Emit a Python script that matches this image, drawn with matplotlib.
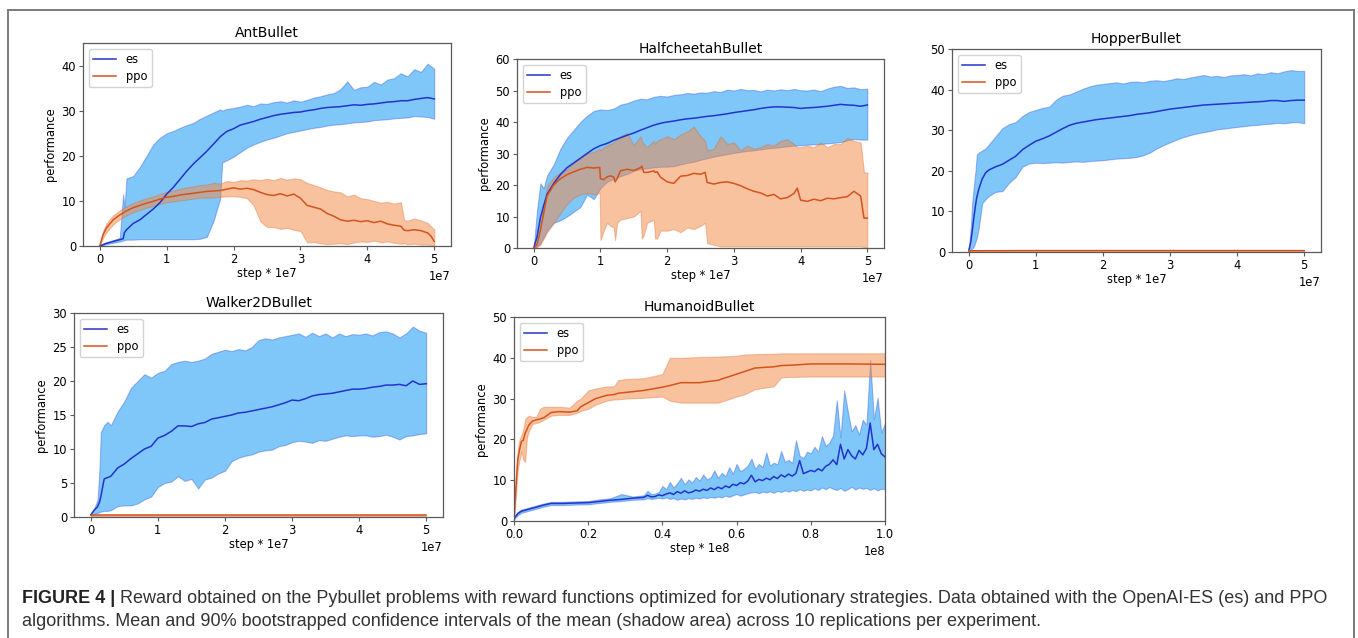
import matplotlib
matplotlib.use('Agg')
import matplotlib.pyplot as plt
from matplotlib.lines import Line2D
import numpy as np

# ---------------- data (x in units of 1e7 steps, Humanoid in 1e8) ----------------
# AntBullet
ant_es_x = [0, 0.05, 0.1, 0.2, 0.3, 0.35, 0.37, 0.4,
            0.5, 0.6, 0.7, 0.8, 0.9, 1.0, 1.1, 1.2, 1.3, 1.4, 1.5, 1.6, 1.7, 1.8,
            1.83,
            1.9, 2.0, 2.1, 2.2, 2.3, 2.4, 2.5, 2.6, 2.7, 2.8, 2.9, 3.0, 3.1, 3.2, 3.3, 3.4,
            3.5, 3.6, 3.7, 3.8, 3.9, 4.0, 4.1, 4.2, 4.3, 4.4, 4.5, 4.6, 4.7, 4.8, 4.9, 5.0]
ant_es_mean = [0, 0.3, 0.6, 1.0, 1.4, 1.6, 3.0, 3.6,
               5.0, 5.8, 7.0, 8.2, 9.6, 11.5, 13.0, 14.8, 16.6, 18.2, 19.6, 21.0, 22.6, 24.2,
               24.6,
               25.4, 26.0, 26.8, 27.2, 27.6, 28.1, 28.5, 28.9, 29.2, 29.4, 29.6, 29.7, 30.0, 30.2, 30.5, 30.7,
               30.8, 30.9, 31.1, 31.3, 31.2, 31.4, 31.5, 31.7, 31.9, 32.0, 32.2, 32.2, 32.5, 32.7, 32.9, 32.6]
ant_es_hi = [0, 0.4, 0.8, 1.3, 1.8, 11.5, 8.5, 15.0,
             15.5, 17.5, 20.0, 22.5, 24.0, 25.0, 25.5, 26.2, 26.8, 27.3, 28.2, 28.9, 29.6, 30.3,
             30.0,
             30.4, 30.6, 30.9, 31.3, 31.0, 31.6, 31.5, 31.9, 32.1, 31.8, 32.3, 32.0, 32.4, 32.9, 33.2, 33.6,
             33.9, 34.8, 36.5, 34.6, 35.2, 35.3, 36.4, 35.8, 36.9, 37.2, 38.3, 37.6, 39.2, 38.6, 40.4, 39.3]
ant_es_lo = [0, 0.2, 0.4, 0.7, 1.0, 1.2, 1.3, 1.4,
             1.4, 1.5, 1.5, 1.5, 1.5, 1.5, 1.5, 1.5, 1.5, 1.5, 1.6, 2.0, 5.5, 10.5,
             18.5,
             19.0, 19.8, 20.8, 21.8, 22.5, 23.1, 23.6, 24.0, 24.5, 25.0, 25.3, 25.6, 25.9, 26.2, 26.4, 26.7,
             26.9, 27.0, 27.2, 27.4, 27.5, 27.6, 27.9, 28.0, 28.1, 28.3, 28.4, 28.5, 28.8, 28.7, 28.6, 28.2]

ant_ppo_x = [0, 0.05, 0.1, 0.2, 0.3, 0.4, 0.5, 0.6, 0.7, 0.8, 0.9,
             1.0, 1.1, 1.2, 1.3, 1.4, 1.5, 1.6, 1.7, 1.8, 1.9,
             2.0, 2.1, 2.2, 2.3, 2.4, 2.5, 2.6, 2.7, 2.8, 2.9,
             3.0, 3.1, 3.2, 3.3, 3.4, 3.5, 3.6, 3.7, 3.8, 3.9,
             4.0, 4.1, 4.2, 4.3, 4.4, 4.5, 4.55, 4.6, 4.7, 4.8, 4.9, 4.95, 5.0]
ant_ppo_mean = [0, 2.5, 4.0, 5.8, 6.9, 7.8, 8.5, 9.0, 9.5, 9.9, 10.4,
                10.8, 11.0, 11.3, 11.5, 11.7, 11.9, 12.1, 12.2, 12.3, 12.6,
                12.9, 12.6, 12.8, 12.5, 11.9, 11.4, 11.2, 11.6, 11.1, 11.5,
                10.6, 9.0, 8.6, 8.2, 7.2, 6.6, 5.8, 5.5, 5.7, 5.4,
                5.6, 5.2, 5.5, 4.9, 4.6, 4.4, 3.5, 3.4, 3.6, 3.4, 2.9, 2.2, 1.0]
ant_ppo_hi = [0, 3.3, 5.0, 6.8, 7.9, 8.8, 9.5, 10.1, 10.6, 11.0, 11.5,
              12.0, 12.3, 12.7, 13.0, 13.2, 13.5, 13.6, 14.0, 13.8, 14.4,
              14.2, 14.6, 14.5, 14.8, 14.6, 14.9, 14.6, 15.1, 14.7, 15.0,
              14.8, 14.0, 13.5, 13.0, 12.4, 12.1, 11.9, 11.0, 11.4, 10.6,
              10.4, 10.0, 9.6, 9.8, 9.4, 9.7, 5.8, 5.6, 6.1, 5.7, 5.1, 4.4, 3.7]
ant_ppo_lo = [0, 1.8, 3.0, 4.8, 5.9, 6.8, 7.5, 8.0, 8.5, 8.9, 9.3,
              9.7, 9.9, 10.1, 10.3, 10.5, 10.7, 10.7, 10.8, 10.9, 11.0,
              11.0, 10.9, 10.6, 9.0, 5.5, 4.2, 4.2, 3.8, 4.0, 3.6,
              3.3, 0.8, 0.9, 0.6, 0.4, 0.5, 0.6, 0.4, 0.8, 1.0,
              0.9, 1.2, 0.8, 1.0, 0.7, 0.5, 0.6, 0.4, 0.5, 0.3, 0.3, 0.2, 0.1]

# HalfcheetahBullet
hc_es_x = [0, 0.05, 0.1, 0.15, 0.2, 0.3, 0.4, 0.5, 0.6, 0.7, 0.8, 0.9,
           1.0, 1.1, 1.2, 1.3, 1.4, 1.5, 1.6, 1.7, 1.8, 1.9,
           2.0, 2.1, 2.2, 2.3, 2.4, 2.5, 2.6, 2.7, 2.8, 2.9,
           3.0, 3.1, 3.2, 3.3, 3.4, 3.5, 3.6, 3.7, 3.8, 3.9,
           4.0, 4.1, 4.2, 4.3, 4.4, 4.5, 4.6, 4.7, 4.8, 4.9, 5.0]
hc_es_mean = [0, 3.5, 9.5, 13.5, 17.0, 20.5, 23.3, 25.5, 27.0, 28.5, 30.0, 31.5,
              32.5, 33.2, 34.2, 35.0, 35.8, 36.5, 37.4, 38.2, 39.0, 39.6,
              40.0, 40.3, 40.7, 41.0, 41.2, 41.5, 41.8, 42.0, 42.3, 42.6,
              43.0, 43.3, 43.6, 43.9, 44.3, 44.6, 44.8, 44.8, 44.7, 44.6,
              44.3, 44.5, 44.6, 44.8, 45.0, 45.3, 45.6, 45.4, 45.3, 45.0, 45.4]
hc_es_hi = [0, 12.0, 20.5, 19.0, 23.0, 26.5, 31.5, 35.0, 37.5, 40.0, 42.0, 43.5,
            44.0, 43.8, 44.3, 45.5, 46.0, 46.8, 47.4, 47.2, 48.0, 48.3,
            48.1, 48.6, 48.8, 49.2, 49.0, 49.4, 49.3, 49.8, 49.5, 50.3,
            50.0, 50.5, 50.1, 50.2, 49.7, 50.3, 50.0, 50.4, 50.1, 50.5,
            50.1, 50.0, 50.3, 49.8, 50.6, 51.2, 51.5, 50.8, 51.0, 50.4, 50.6]
hc_es_lo = [0, 0.5, 1.5, 3.5, 5.5, 8.0, 8.8, 10.0, 11.5, 13.0, 17.0, 15.5,
            19.0, 21.0, 22.0, 22.8, 23.5, 24.5, 25.0, 25.3, 25.6, 25.8,
            25.8, 26.0, 26.5, 27.0, 27.4, 28.0, 28.5, 29.0, 29.4, 29.8,
            30.2, 30.5, 30.8, 31.0, 31.3, 31.6, 31.8, 32.0, 32.3, 32.5,
            32.6, 32.8, 32.9, 33.0, 33.2, 33.4, 33.6, 34.2, 34.6, 34.4, 34.4]

hc_ppo_x = [0, 0.05, 0.1, 0.15, 0.2, 0.3, 0.4, 0.5, 0.6, 0.7, 0.8, 0.9, 0.99,
            1.0, 1.05, 1.1, 1.15, 1.2, 1.22, 1.25, 1.3, 1.4, 1.5,
            1.6, 1.62, 1.65, 1.7, 1.8, 1.82, 1.85, 1.9,
            2.0, 2.1, 2.2, 2.3, 2.4, 2.5, 2.57, 2.6, 2.7, 2.8, 2.9,
            3.0, 3.1, 3.2, 3.3, 3.4, 3.5, 3.6, 3.7, 3.8, 3.9, 3.95,
            4.0, 4.1, 4.2, 4.3, 4.4, 4.5, 4.6, 4.7, 4.8, 4.9, 4.95, 5.0]
hc_ppo_mean = [0, 1.0, 5.5, 11.0, 16.5, 20.0, 22.0, 23.3, 24.2, 25.0, 25.6, 25.4, 25.6,
               22.0, 21.7, 22.6, 22.9, 22.5, 21.0, 22.0, 24.5, 25.0, 24.6,
               25.5, 26.0, 24.0, 24.0, 24.5, 24.0, 24.2, 22.5,
               21.0, 20.5, 22.8, 23.0, 23.7, 23.4, 24.0, 20.8, 20.3, 20.8, 21.0,
               20.5, 19.8, 18.8, 18.0, 17.5, 16.5, 17.0, 15.6, 16.0, 17.3, 19.0,
               15.2, 14.8, 15.5, 15.0, 15.8, 15.6, 16.0, 16.3, 18.0, 16.5, 9.5, 9.5]
hc_ppo_hi = [0, 2.0, 7.5, 14.0, 19.5, 22.5, 24.0, 25.0, 27.0, 28.5, 30.0, 30.5, 31.5,
             31.0, 32.0, 32.5, 33.0, 33.5, 34.0, 34.5, 35.5, 36.5, 32.5,
             35.5, 34.0, 33.0, 32.0, 34.0, 33.0, 34.0, 34.5,
             35.5, 34.5, 36.0, 37.0, 38.5, 35.5, 34.0, 31.0, 31.5, 35.5, 33.0,
             33.5, 31.0, 32.5, 31.5, 32.0, 33.0, 32.5, 34.0, 34.5, 33.0, 32.0,
             32.0, 32.5, 32.0, 33.5, 32.0, 33.0, 33.0, 35.0, 34.0, 33.5, 24.0, 24.0]
hc_ppo_lo = [0, 0.3, 1.0, 3.0, 5.0, 8.0, 11.0, 14.0, 16.0, 17.0, 17.5, 17.0, 17.5,
             2.5, 5.5, 8.0, 7.0, 6.5, 2.5, 8.0, 9.0, 9.5, 10.0,
             11.8, 3.0, 4.0, 8.0, 9.0, 3.0, 3.0, 5.5,
             5.5, 6.0, 5.0, 6.5, 6.0, 7.0, 8.0, 1.5, 1.0, 0.5, 0.5,
             0.5, 0.5, 0.5, 0.5, 0.5, 0.5, 0.5, 0.5, 0.5, 0.5, 0.5,
             0.5, 0.5, 0.5, 0.5, 0.5, 0.5, 0.5, 0.5, 0.5, 0.5, 0.3, 0.0]

# HopperBullet
hp_es_x = [0, 0.03, 0.05, 0.08, 0.1, 0.12, 0.15, 0.2, 0.25, 0.3,
           0.4, 0.5, 0.6, 0.7, 0.8, 0.9,
           1.0, 1.1, 1.2, 1.3, 1.4, 1.5, 1.6, 1.7, 1.8, 1.9,
           2.0, 2.1, 2.2, 2.3, 2.4, 2.5, 2.6, 2.7, 2.8, 2.9,
           3.0, 3.1, 3.2, 3.3, 3.4, 3.5, 3.6, 3.7, 3.8, 3.9,
           4.0, 4.1, 4.2, 4.3, 4.4, 4.5, 4.6, 4.7, 4.8, 4.9, 5.0]
hp_es_mean = [0.3, 2.5, 5.0, 9.0, 11.5, 13.5, 15.5, 18.0, 19.5, 20.2,
              21.0, 21.6, 22.6, 23.6, 25.2, 26.3,
              27.3, 27.9, 28.6, 29.5, 30.4, 31.2, 31.7, 32.0, 32.3, 32.6,
              32.8, 33.0, 33.2, 33.4, 33.6, 33.9, 34.1, 34.3, 34.6, 34.9,
              35.2, 35.4, 35.6, 35.8, 36.0, 36.2, 36.3, 36.4, 36.5, 36.6,
              36.7, 36.8, 36.9, 37.0, 37.1, 37.3, 37.3, 37.1, 37.3, 37.4, 37.4]
hp_es_hi = [0.5, 6.0, 12.0, 17.0, 20.0, 24.0, 24.5, 25.0, 25.5, 26.5,
            28.5, 30.5, 31.5, 32.0, 33.5, 34.5,
            35.0, 35.5, 35.8, 37.5, 38.5, 38.8, 39.5, 40.2, 40.8, 41.2,
            41.4, 41.6, 41.8, 41.5, 41.9, 42.0, 41.8, 42.2, 42.3, 42.1,
            42.4, 42.8, 42.6, 43.0, 43.3, 43.6, 43.2, 43.4, 43.1, 43.5,
            43.6, 43.8, 43.5, 44.0, 43.8, 44.3, 44.0, 44.5, 44.8, 44.6, 44.6]
hp_es_lo = [0.3, 0.5, 0.8, 1.5, 2.5, 3.5, 6.0, 12.0, 13.0, 13.8,
            14.8, 15.0, 17.0, 18.5, 21.0, 21.8,
            22.0, 21.9, 22.0, 22.1, 22.0, 22.2, 22.3, 22.2, 22.4, 22.5,
            22.6, 22.8, 23.0, 23.1, 23.2, 23.4, 23.8, 24.5, 25.5, 26.3,
            27.0, 27.7, 28.3, 28.8, 29.2, 29.5, 29.8, 30.2, 30.4, 30.6,
            30.8, 31.0, 31.2, 31.3, 31.5, 31.6, 31.8, 31.7, 31.9, 32.0, 31.7]
hp_ppo_x = [0, 1, 2, 3, 4, 5]
hp_ppo_mean = [0.3, 0.35, 0.35, 0.35, 0.35, 0.35]
hp_ppo_hi = [0.4, 0.45, 0.45, 0.45, 0.45, 0.45]
hp_ppo_lo = [0.2, 0.25, 0.25, 0.25, 0.25, 0.25]

# Walker2DBullet
wk_es_x = [0, 0.05, 0.1, 0.13, 0.15, 0.2, 0.25, 0.3,
           0.4, 0.5, 0.6, 0.7, 0.8, 0.9,
           1.0, 1.1, 1.2, 1.3, 1.4, 1.5, 1.6, 1.7, 1.8, 1.9,
           2.0, 2.1, 2.2, 2.3, 2.4, 2.5, 2.6, 2.7, 2.8, 2.9,
           3.0, 3.1, 3.2, 3.3, 3.4, 3.5, 3.6, 3.7, 3.8, 3.9,
           4.0, 4.1, 4.2, 4.3, 4.4, 4.5, 4.6, 4.7, 4.8, 4.9, 5.0]
wk_es_mean = [0.3, 1.0, 1.5, 2.2, 3.0, 5.6, 5.8, 6.0,
              7.2, 7.8, 8.6, 9.3, 10.0, 10.4,
              11.6, 12.0, 12.6, 13.4, 13.4, 13.3, 13.7, 13.9, 14.4, 14.6,
              14.8, 15.0, 15.3, 15.4, 15.6, 15.8, 16.0, 16.2, 16.5, 16.8,
              17.2, 17.1, 17.4, 17.8, 18.0, 18.1, 18.2, 18.4, 18.6, 18.8,
              18.8, 18.9, 19.1, 19.2, 19.4, 19.4, 19.5, 19.3, 20.0, 19.5, 19.6]
wk_es_hi = [0.5, 1.2, 2.5, 7.0, 12.5, 13.5, 14.0, 13.5,
            15.5, 17.0, 19.0, 20.0, 21.0, 20.5,
            21.2, 21.5, 22.5, 22.8, 23.0, 22.8, 23.0, 23.3, 24.0, 24.3,
            24.6, 24.4, 24.7, 24.5, 25.0, 26.0, 26.3, 26.1, 26.4, 26.6,
            26.8, 27.0, 26.5, 27.1, 26.6, 27.0, 26.4, 27.0, 26.6, 26.9,
            26.8, 27.0, 26.7, 27.2, 27.3, 27.0, 26.4, 27.0, 28.0, 27.4, 27.1]
wk_es_lo = [0.2, 0.4, 0.6, 0.7, 0.8, 0.9, 0.9, 1.0,
            1.6, 1.7, 1.7, 2.0, 2.6, 3.0,
            4.4, 5.0, 5.2, 6.0, 5.3, 5.6, 4.2, 5.5, 5.8, 6.4,
            6.8, 8.2, 8.7, 9.0, 9.2, 9.6, 9.8, 9.9, 10.4, 10.6,
            11.0, 11.2, 11.1, 10.9, 11.3, 11.2, 11.5, 11.8, 12.0, 11.9,
            12.0, 12.0, 11.8, 11.9, 12.1, 11.8, 11.4, 11.9, 12.0, 12.2, 12.3]
wk_ppo_x = [0, 1, 2, 3, 4, 5]
wk_ppo_mean = [0.25, 0.25, 0.25, 0.25, 0.25, 0.25]
wk_ppo_hi = [0.3, 0.3, 0.3, 0.3, 0.3, 0.3]
wk_ppo_lo = [0.2, 0.2, 0.2, 0.2, 0.2, 0.2]

# HumanoidBullet (x in units of 1e8)
hm_ppo_x = [0, 0.005, 0.01, 0.015, 0.02, 0.025, 0.03, 0.035, 0.04, 0.05,
            0.06, 0.07, 0.08, 0.1, 0.12, 0.15, 0.17, 0.18, 0.2, 0.22,
            0.25, 0.27, 0.28, 0.3, 0.35, 0.4, 0.42, 0.45, 0.5, 0.55,
            0.6, 0.62, 0.65, 0.7, 0.72, 0.75, 0.8, 0.9, 1.0]
hm_ppo_mean = [0.5, 8.0, 15.0, 17.5, 19.5, 19.8, 21.5, 22.5, 23.5, 24.5,
               24.8, 25.0, 25.3, 26.6, 26.8, 26.7, 27.0, 28.0, 29.0, 30.0,
               30.8, 31.0, 31.3, 31.5, 32.0, 32.8, 33.2, 33.9, 33.9, 34.5,
               36.0, 36.6, 37.5, 37.8, 38.1, 38.2, 38.5, 38.5, 38.4]
hm_ppo_hi = [0.5, 10.0, 17.5, 20.0, 21.0, 22.5, 25.0, 25.5, 25.8, 25.5,
             25.5, 27.5, 28.0, 28.0, 28.0, 27.8, 29.5, 30.0, 32.0, 32.5,
             33.0, 33.0, 34.5, 34.8, 35.0, 36.0, 40.0, 40.0, 40.2, 40.3,
             40.5, 40.8, 40.9, 41.0, 41.1, 41.1, 41.1, 41.1, 41.1]
hm_ppo_lo = [0.5, 6.0, 12.5, 15.0, 17.0, 15.0, 14.5, 20.5, 22.0, 23.8,
             24.0, 24.3, 24.8, 25.8, 26.0, 26.0, 26.5, 27.0, 27.5, 28.5,
             29.5, 29.8, 29.8, 30.0, 30.2, 30.5, 29.5, 29.0, 29.0, 29.0,
             30.5, 31.0, 32.3, 33.0, 35.2, 35.3, 35.4, 35.4, 35.4]

hm_es_x = [0, 0.01, 0.02, 0.04, 0.06, 0.08, 0.1, 0.13, 0.16, 0.2, 0.23, 0.26, 0.29, 0.32,
           0.35, 0.36, 0.37, 0.38, 0.39, 0.40, 0.41, 0.42, 0.43, 0.44, 0.45, 0.46, 0.47, 0.48, 0.49,
           0.50, 0.51, 0.52, 0.53, 0.54, 0.55, 0.56, 0.57, 0.58, 0.59, 0.60, 0.61, 0.62, 0.63, 0.64,
           0.65, 0.66, 0.67, 0.68, 0.69, 0.70, 0.71, 0.72, 0.73, 0.74, 0.75, 0.76, 0.77, 0.78, 0.79,
           0.80, 0.81, 0.82, 0.83, 0.84, 0.85, 0.86, 0.87, 0.88, 0.89, 0.90, 0.91, 0.92, 0.93, 0.94,
           0.95, 0.96, 0.97, 0.98, 0.99, 1.00]
hm_es_mean = [0.6, 1.8, 2.4, 2.9, 3.4, 3.9, 4.3, 4.3, 4.4, 4.5, 4.8, 5.1, 5.3, 5.6,
              5.8, 6.3, 5.9, 6.0, 6.4, 6.2, 6.6, 6.9, 6.5, 7.2, 6.8, 7.4, 6.9, 7.1, 7.6,
              7.3, 7.8, 7.5, 8.1, 7.7, 8.3, 7.9, 8.6, 8.2, 9.0, 8.7, 9.4, 9.1, 9.8, 11.2,
              9.6, 10.2, 9.9, 10.5, 10.1, 10.9, 10.4, 11.3, 10.8, 11.5, 11.0, 11.7, 14.8, 11.6, 12.0,
              12.4, 12.1, 12.8, 12.3, 13.4, 13.9, 15.0, 13.8, 18.8, 15.2, 17.5, 16.0, 15.2, 17.3, 16.2,
              17.8, 24.0, 17.5, 18.8, 16.5, 15.7]
hm_es_hi = [0.9, 2.2, 2.8, 3.3, 3.8, 4.3, 4.7, 4.7, 4.8, 4.9, 5.3, 5.6, 6.6, 6.0,
            6.3, 7.4, 6.6, 6.7, 7.1, 8.6, 7.8, 9.6, 8.2, 9.3, 10.6, 9.0, 10.2, 9.4, 10.8,
            9.9, 11.4, 10.2, 10.7, 12.4, 10.6, 11.8, 11.0, 13.2, 11.6, 14.0, 12.2, 12.8, 13.6, 15.3,
            12.8, 14.0, 13.2, 16.8, 13.6, 14.3, 13.9, 17.2, 14.5, 15.0, 14.2, 19.8, 16.0, 15.4, 17.0,
            16.6, 18.2, 17.0, 20.8, 18.4, 19.2, 21.0, 29.6, 20.5, 32.0, 26.8, 22.0, 23.5, 21.2, 24.8,
            23.6, 39.5, 25.0, 30.2, 21.7, 24.0]
hm_es_lo = [0.4, 1.4, 2.0, 2.5, 3.0, 3.5, 3.9, 3.9, 4.0, 4.1, 4.4, 4.7, 4.9, 5.2,
            5.3, 5.6, 5.4, 5.5, 5.7, 5.5, 5.8, 5.4, 5.6, 5.2, 5.5, 5.3, 5.6, 5.4, 5.7,
            5.5, 5.8, 5.6, 5.9, 5.7, 6.0, 5.8, 6.2, 5.9, 6.3, 6.6, 6.2, 6.5, 6.8, 7.0,
            7.1, 6.8, 7.2, 7.0, 7.3, 6.9, 7.4, 7.1, 7.5, 7.2, 7.6, 7.3, 7.8, 7.4, 7.7,
            7.5, 8.0, 7.6, 8.2, 7.8, 8.3, 7.9, 7.6, 8.1, 7.4, 7.8, 8.4, 7.7, 8.2, 7.9,
            8.1, 7.6, 8.0, 7.5, 7.9, 7.8]

series_names = ['es', 'ppo']
caption_bold = "FIGURE 4 | "
caption_line1 = ("Reward obtained on the Pybullet problems with reward functions optimized for "
                 "evolutionary strategies. Data obtained with the OpenAI-ES (es) and PPO")
caption_line2 = ("algorithms. Mean and 90% bootstrapped confidence intervals of the mean "
                 "(shadow area) across 10 replications per experiment.")

# ---------------- styling ----------------
ES_LINE = '#2234cc'
PPO_LINE = '#d4541c'
ES_FILL = (0.0, 0.57, 0.96, 0.5)
ES_EDGE = (0.15, 0.25, 0.85, 0.35)
PPO_FILL = (0.96, 0.53, 0.25, 0.5)
PPO_EDGE = (0.85, 0.40, 0.15, 0.35)
SPINE = '#5a5a5a'

W, H = 1358, 638
fig = plt.figure(figsize=(W / 100, H / 100), dpi=100)


def px_rect(l, t, r, b):
    return [l / W, 1 - b / H, (r - l) / W, (b - t) / H]


def panel(rect, title, scale, es, ppo, ylim, yticks, xlabel, ylabel=True, xlim=None):
    ax = fig.add_axes(rect)
    ex, em, elo, ehi = [np.asarray(a, dtype=float) for a in es]
    px, pm, plo, phi = [np.asarray(a, dtype=float) for a in ppo]
    assert len(ex) == len(em) == len(elo) == len(ehi), title
    assert len(px) == len(pm) == len(plo) == len(phi), title
    ex = ex * scale
    px = px * scale
    ax.fill_between(ex, elo, ehi, facecolor=ES_FILL, edgecolor=ES_EDGE, linewidth=0.8)
    ax.fill_between(px, plo, phi, facecolor=PPO_FILL, edgecolor=PPO_EDGE, linewidth=0.8)
    ax.plot(ex, em, color=ES_LINE, lw=1.1, label=series_names[0])
    ax.plot(px, pm, color=PPO_LINE, lw=1.1, label=series_names[1])
    ax.set_ylim(*ylim)
    ax.set_yticks(yticks)
    if xlim is not None:
        ax.set_xlim(*xlim)
    ax.set_title(title, fontsize=10, pad=4)
    ax.set_xlabel(xlabel, fontsize=8.3, labelpad=0.5)
    if ylabel:
        ax.set_ylabel('performance', fontsize=8.3, labelpad=3)
    ax.tick_params(labelsize=8.3, length=3, width=0.8, color=SPINE, pad=2)
    ax.xaxis.get_offset_text().set_fontsize(8.3)
    for s in ax.spines.values():
        s.set_color(SPINE)
        s.set_linewidth(0.9)
    leg = ax.legend(loc='upper left', fontsize=8.3, labelspacing=0.3,
                    handlelength=2.0, borderpad=0.4, framealpha=0.85)
    leg.get_frame().set_edgecolor('#cccccc')
    return ax


panel(px_rect(83, 43, 451, 246), 'AntBullet', 1e7,
      (ant_es_x, ant_es_mean, ant_es_lo, ant_es_hi),
      (ant_ppo_x, ant_ppo_mean, ant_ppo_lo, ant_ppo_hi),
      (0, 45), [0, 10, 20, 30, 40], 'step * 1e7')
panel(px_rect(517, 59, 884, 248), 'HalfcheetahBullet', 1e7,
      (hc_es_x, hc_es_mean, hc_es_lo, hc_es_hi),
      (hc_ppo_x, hc_ppo_mean, hc_ppo_lo, hc_ppo_hi),
      (0, 60), [0, 10, 20, 30, 40, 50, 60], 'step * 1e7')
panel(px_rect(952, 49, 1321, 252), 'HopperBullet', 1e7,
      (hp_es_x, hp_es_mean, hp_es_lo, hp_es_hi),
      (hp_ppo_x, hp_ppo_mean, hp_ppo_lo, hp_ppo_hi),
      (0, 50), [0, 10, 20, 30, 40, 50], 'step * 1e7', ylabel=False)
panel(px_rect(74, 313, 443, 517), 'Walker2DBullet', 1e7,
      (wk_es_x, wk_es_mean, wk_es_lo, wk_es_hi),
      (wk_ppo_x, wk_ppo_mean, wk_ppo_lo, wk_ppo_hi),
      (0, 30), [0, 5, 10, 15, 20, 25, 30], 'step * 1e7')
panel(px_rect(514, 317, 885, 521), 'HumanoidBullet', 1e8,
      (hm_es_x, hm_es_mean, hm_es_lo, hm_es_hi),
      (hm_ppo_x, hm_ppo_mean, hm_ppo_lo, hm_ppo_hi),
      (0, 50), [0, 10, 20, 30, 40, 50], 'step * 1e8', xlim=(0, 1e8))

# frame around figure (open at the bottom)
fc = '#7a7a7a'
fig.add_artist(Line2D([7.5 / W, 7.5 / W], [0, 1 - 9.5 / H], color=fc, lw=1.4, transform=fig.transFigure))
fig.add_artist(Line2D([7.5 / W, 1353.5 / W], [1 - 9.5 / H, 1 - 9.5 / H], color=fc, lw=1.4, transform=fig.transFigure))
fig.add_artist(Line2D([1353.5 / W, 1353.5 / W], [0, 1 - 9.5 / H], color=fc, lw=1.4, transform=fig.transFigure))

# caption
cap_font = ['Liberation Sans', 'DejaVu Sans']
x0 = 22 / W
y1 = 1 - 603 / H
y2 = 1 - 626 / H
fs = 12
tb = fig.text(x0, y1, caption_bold, fontsize=fs, fontweight='bold', family=cap_font,
              color='#222222', va='baseline')
tr = fig.text(x0, y1, caption_line1, fontsize=fs, family=cap_font, color='#333333', va='baseline')
t2 = fig.text(x0, y2, caption_line2, fontsize=fs, family=cap_font, color='#333333', va='baseline')
renderer = fig.canvas.get_renderer()
total = tb.get_window_extent(renderer).width + tr.get_window_extent(renderer).width
fs2 = fs * 1303.0 / total
for t in (tb, tr, t2):
    t.set_fontsize(fs2)
wb = tb.get_window_extent(renderer).width
tr.set_x(x0 + wb / W)

fig.savefig('out.png', dpi=100)
